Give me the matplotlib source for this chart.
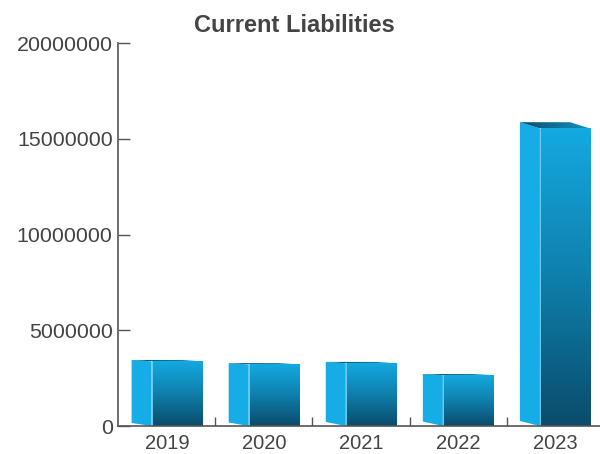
import numpy as np
import matplotlib
matplotlib.use("Agg")
import matplotlib.pyplot as plt
from matplotlib.colors import LinearSegmentedColormap
from matplotlib.patches import Polygon

plt.rcParams['font.family'] = ['Liberation Sans', 'DejaVu Sans']

# Data
years = ["2019", "2020", "2021", "2022", "2023"]
liabilities = [3380000, 3220000, 3280000, 2660000, 15550000]
y_ticks = [0, 5000000, 10000000, 15000000, 20000000]

text_color = "#444444"
axis_color = "#555555"
side_color = "#16ADE6"
front_cmap = LinearSegmentedColormap.from_list("front", ["#0A4C6B", "#0F7FAC", "#14A9E0"])
top_cmap = LinearSegmentedColormap.from_list("top", ["#0A4C6B", "#1493C6"])

fig = plt.figure(figsize=(6.0, 4.54), dpi=100)
W, H = 600, 454
ax_left, ax_right, ax_bottom, ax_top = 118.3, 603.7, 426.0, 43.3
ax = fig.add_axes([ax_left / W, (H - ax_bottom) / H,
                   (ax_right - ax_left) / W, (ax_bottom - ax_top) / H])
ax.set_xlim(-0.5, len(years) - 0.5)
ax.set_ylim(0, 20000000)

# pixel -> data conversion factors for the depth offsets
px_x = (len(years)) / (ax_right - ax_left)
px_y = 20000000 / (ax_bottom - ax_top)

front_left, front_w = -0.157, 0.516
depth_dx = -20 * px_x

for i, v in enumerate(liabilities):
    x0 = i + front_left
    x1 = x0 + front_w
    bx0 = x0 + depth_dx
    bx1 = x1 + depth_dx
    dy_top = 0.021 * v
    dy_bot = (3 + 0.5 * i) * px_y

    # left side face
    side = Polygon([(x0, 0), (x0, v), (bx0, v + dy_top), (bx0, dy_bot)],
                   closed=True, facecolor=side_color, edgecolor="none", zorder=2)
    ax.add_patch(side)

    # top face with horizontal gradient
    top = Polygon([(x0, v), (x1, v), (bx1, v + dy_top), (bx0, v + dy_top)],
                  closed=True, facecolor="none", edgecolor="none", zorder=2)
    ax.add_patch(top)
    grad_h = np.linspace(0, 1, 64).reshape(1, -1)
    im = ax.imshow(grad_h, cmap=top_cmap, aspect="auto",
                   extent=(bx0, x1, v, v + dy_top + 1), zorder=2,
                   interpolation="bilinear")
    im.set_clip_path(top)

    # front face with vertical gradient
    bar = ax.bar(x0 + front_w / 2, v, width=front_w, color="none",
                 edgecolor="none", zorder=3)[0]
    grad_v = np.linspace(0, 1, 128).reshape(-1, 1)
    im2 = ax.imshow(grad_v, cmap=front_cmap, aspect="auto", origin="lower",
                    extent=(x0, x1, 0, v), zorder=3, interpolation="bilinear")
    im2.set_clip_path(bar)

    # light seam between side and front
    ax.plot([x0, x0], [0, v], color="#6FCBF0", lw=0.7, zorder=4)

# Axes styling
for s in ["top", "right"]:
    ax.spines[s].set_visible(False)
for s in ["left", "bottom"]:
    ax.spines[s].set_color(axis_color)
    ax.spines[s].set_linewidth(1.2)
    ax.spines[s].set_zorder(5)

ax.set_yticks(y_ticks)
ax.set_yticklabels([str(t) for t in y_ticks])
ax.tick_params(axis="y", direction="in", length=8.6, width=1.0, color=axis_color,
               labelsize=15.4, labelcolor=text_color, pad=4)

ax.set_xticks(range(len(years)))
ax.set_xticklabels(years)
ax.set_xticks([i + 0.5 for i in range(len(years) - 1)], minor=True)
ax.tick_params(axis="x", which="major", length=0, labelsize=14.5,
               labelcolor=text_color, pad=6)
ax.tick_params(axis="x", which="minor", direction="in", length=6.5, width=1.0,
               color=axis_color)

fig.text(294 / W, 1 - 26 / H, "Current Liabilities", ha="center", va="center",
         fontsize=17, fontweight="bold", color=text_color)

fig.savefig("out.png", dpi=100)
